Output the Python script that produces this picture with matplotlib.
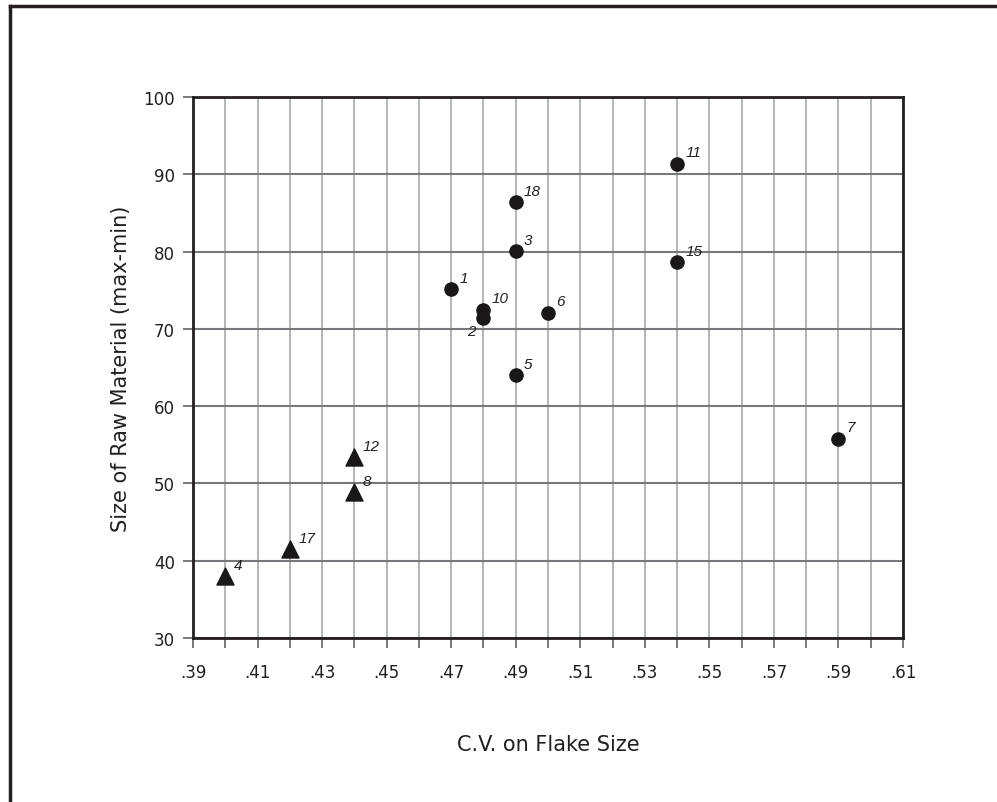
import matplotlib.pyplot as plt
from matplotlib.lines import Line2D

# circles
cv_circ = [0.47, 0.48, 0.48, 0.49, 0.49, 0.49, 0.50, 0.54, 0.54, 0.59]
size_circ = [75.2, 72.5, 71.4, 86.4, 80.1, 64.0, 72.1, 91.4, 78.6, 55.8]
lab_circ = ['1', '10', '2', '18', '3', '5', '6', '11', '15', '7']

# triangles
cv_tri = [0.40, 0.42, 0.44, 0.44]
size_tri = [38.0, 41.5, 48.9, 53.4]
lab_tri = ['4', '17', '8', '12']

xticks = [0.39, 0.41, 0.43, 0.45, 0.47, 0.49, 0.51, 0.53, 0.55, 0.57, 0.59, 0.61]
xtick_labels = ['.39', '.41', '.43', '.45', '.47', '.49', '.51', '.53', '.55', '.57', '.59', '.61']
yticks = [30, 40, 50, 60, 70, 80, 90, 100]

fig = plt.figure(figsize=(9.97, 8.03), dpi=100)
ax = fig.add_axes([0.1936, 0.2042, 0.7121, 0.6737])

# page frame (left and top edges only)
fig.add_artist(Line2D([0.010, 0.010], [0.0, 0.9915], transform=fig.transFigure, color='#231f20', lw=2.5))
fig.add_artist(Line2D([0.010, 1.0], [0.9915, 0.9915], transform=fig.transFigure, color='#231f20', lw=2.5))

ax.set_xlim(0.39, 0.61)
ax.set_ylim(30, 100)

# grid
minor_x = [0.39 + 0.01 * i for i in range(23)]
for xv in minor_x:
    ax.axvline(xv, color='#a7a9ac', lw=1.2, zorder=1)
for yv in yticks:
    ax.axhline(yv, color='#77787b', lw=1.5, zorder=1)

ax.scatter(cv_circ, size_circ, s=90, marker='o', color='#1a1718', zorder=3)
ax.scatter(cv_tri, size_tri, s=150, marker='^', color='#1a1718', zorder=3)

for x, y, t in zip(cv_circ + cv_tri, size_circ + size_tri, lab_circ + lab_tri):
    if t == '2':
        ax.annotate(t, (x, y), xytext=(-6, -4), textcoords='offset points',
                    ha='right', va='top', fontsize=11, style='italic',
                    family='Liberation Sans', color='#231f20')
    else:
        ax.annotate(t, (x, y), xytext=(6, 3), textcoords='offset points',
                    ha='left', va='bottom', fontsize=11, style='italic',
                    family='Liberation Sans', color='#231f20')

ax.set_xticks(xticks)
ax.set_xticklabels(xtick_labels)
ax.set_xticks(minor_x, minor=True)
ax.set_yticks(yticks)
ax.tick_params(axis='both', which='major', direction='out', length=7, width=1.3,
               color='#6d6e71', labelsize=12, labelcolor='#231f20', pad=6)
ax.tick_params(axis='x', which='minor', direction='out', length=7, width=1.3, color='#6d6e71')
ax.tick_params(axis='x', which='major', pad=11)

for sp in ax.spines.values():
    sp.set_color('#231f20')
    sp.set_linewidth(2)

ax.set_xlabel('C.V. on Flake Size', fontsize=15, color='#231f20', labelpad=38)
ax.set_ylabel('Size of Raw Material (max-min)', fontsize=15, color='#231f20', labelpad=9)

fig.savefig('out.png', dpi=100)
